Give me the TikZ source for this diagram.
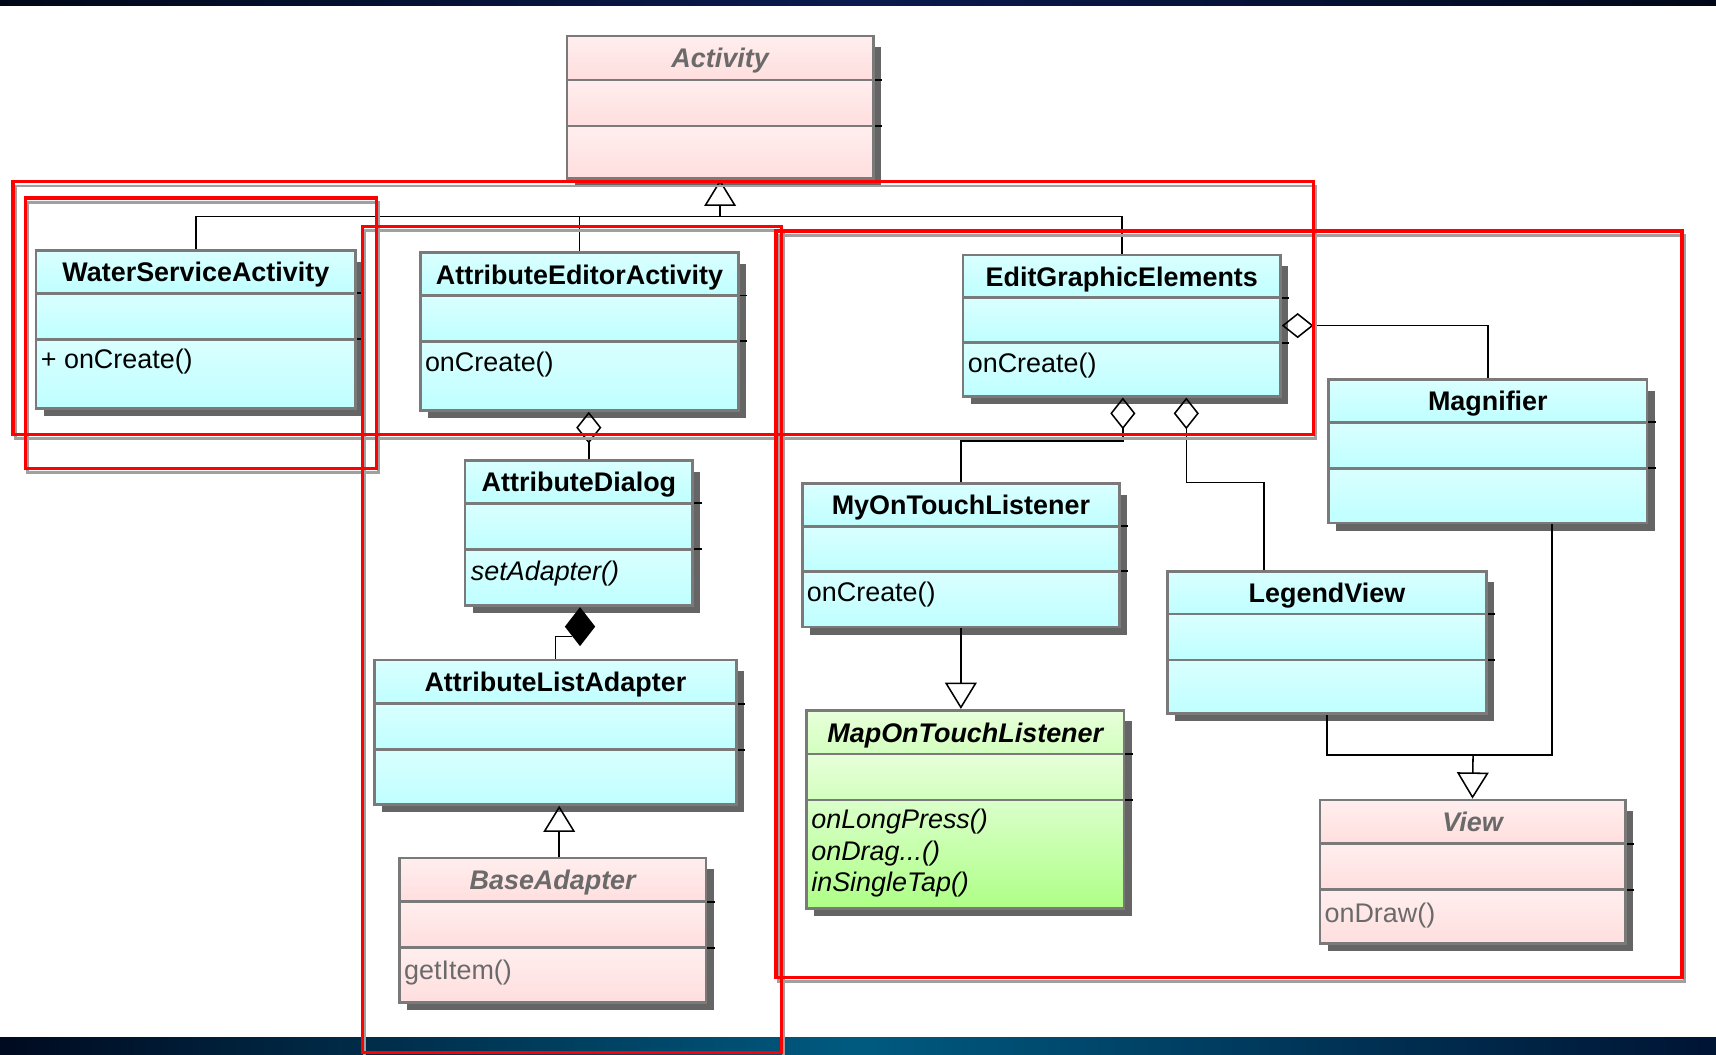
\documentclass[tikz,border=0pt]{standalone}
\usepackage{fontspec}
\newfontfamily\umlfont{Liberation Sans}
\usepackage{tikz}
\usetikzlibrary{calc}
\usetikzlibrary{arrows.meta}
\usetikzlibrary{shapes.geometric}
\usetikzlibrary{fit}
\usetikzlibrary{positioning}

\definecolor{cyanA}{HTML}{DAFFFF}
\definecolor{cyanB}{HTML}{BFFFFF}
\definecolor{pinkA}{HTML}{FFEEEE}
\definecolor{pinkB}{HTML}{FFDEDE}
\definecolor{greenA}{HTML}{E8FFDA}
\definecolor{greenB}{HTML}{D2FFBE}
\definecolor{greenC}{HTML}{DAFFCA}
\definecolor{greenD}{HTML}{AEFF86}
\definecolor{clsedge}{HTML}{7A7A7A}
\definecolor{clsshade}{HTML}{656565}
\definecolor{abstxt}{HTML}{6A6A6A}
\definecolor{markred}{HTML}{FF0000}
\definecolor{markgray}{HTML}{A0A0A0}
\definecolor{barA}{HTML}{000A20}
\definecolor{barB}{HTML}{005A80}
\definecolor{barC}{HTML}{001434}
\definecolor{topA}{HTML}{000818}
\definecolor{topB}{HTML}{0A1A50}

\tikzset{cyancls/.style={top color=cyanA, bottom color=cyanB},
  pinkcls/.style={top color=pinkA, bottom color=pinkB},
  greencls/.style={top color=greenA, bottom color=greenB},
  greencls ops/.style={top color=greenC, bottom color=greenD},
  clsbox/.style={draw=clsedge, line width=1.4pt, inner sep=0pt},
  clsline/.style={draw=clsedge, line width=1.4pt},
  clsshadow/.style={fill=clsshade},
  clstitle/.style={font=\umlfont\bfseries\fontsize{14}{16}\selectfont, anchor=base, inner sep=0pt},
  clsmeth/.style={font=\umlfont\fontsize{14}{16.4}\selectfont, anchor=base west, inner sep=0pt, align=left},
  conn/.style={line width=0.8pt, black},
  gen/.style={conn, -{Triangle[open, length=0.48cm, width=0.58cm]}},
  agg/.style={conn, -{Diamond[open, length=0.58cm, width=0.46cm]}},
  compd/.style={diamond, fill=black, inner sep=0pt, minimum width=0.56cm, minimum height=0.72cm},
  markbox/.style={draw=markred, line width=1.7pt},
  markshadow/.style={draw=markgray, line width=1.5pt}}

% name, left, top, right, bottom, divider 1, divider 2, fill, title
\newcommand{\umlclass}[9]{%
  \fill[clsshadow] (#2+7,-#3-10) rectangle (#4+7,-#5-7);
  \draw[line width=1pt] (#4+1,-#6) -- (#4+8,-#6) (#4+1,-#7) -- (#4+8,-#7);
  \shade[#8] (#2,-#3) rectangle (#4,-#6);
  \shade[#8] (#2,-#6) rectangle (#4,-#7);
  \shade[#8, #8 ops/.try] (#2,-#7) rectangle (#4,-#5);
  \draw[clsline] (#2,-#6) -- (#4,-#6) (#2,-#7) -- (#4,-#7);
  \node[clsbox, fit={(#2,-#3) (#4,-#5)}] (#1) {};
  \node[clstitle] (#1-title) at ({(#2+#4)/2},{-(#3+#6)/2-9}) {#9};
}

\begin{document}
\begin{tikzpicture}[x=0.02cm, y=0.02cm]

\useasboundingbox (0,0) rectangle (1568,-964);
\fill[white] (0,0) rectangle (1568,-964);
\shade[left color=topA, right color=topA, middle color=topB] (0,0) rectangle (1568,-5);
\shade[left color=barA, right color=barC, middle color=barB] (0,-948) rectangle (1568,-964);

% classes
\umlclass{act}{518}{33}{798}{163}{73}{115}{pinkcls}{\color{abstxt}\itshape Activity}
\umlclass{wsa}{33}{229}{325}{373}{268}{310}{cyancls}{WaterServiceActivity}
\umlclass{aea}{384}{231}{675}{375}{270}{312}{cyancls}{AttributeEditorActivity}
\umlclass{ege}{880}{233}{1170}{362}{272}{313}{cyancls}{EditGraphicElements}
\umlclass{mag}{1214}{347}{1505}{478}{386}{428}{cyancls}{Magnifier}
\umlclass{adlg}{425}{421}{633}{553}{460}{502}{cyancls}{AttributeDialog}
\umlclass{motl}{733}{442}{1023}{573}{481}{522}{cyancls}{MyOnTouchListener}
\umlclass{lgv}{1067}{522}{1358}{652}{561}{603}{cyancls}{LegendView}
\umlclass{ala}{342}{603}{673}{735}{643}{685}{cyancls}{AttributeListAdapter}
\umlclass{maptl}{737}{649}{1027}{830}{689}{731}{greencls}{\itshape MapOnTouchListener}
\umlclass{view}{1206}{731}{1485}{862}{771}{813}{pinkcls}{\color{abstxt}\itshape View}
\umlclass{base}{365}{784}{645}{916}{824}{866}{pinkcls}{\color{abstxt}\itshape BaseAdapter}

\node[clsmeth] (wsa-ops) at (37,-337) {+ onCreate()};
\node[clsmeth] (aea-ops) at (388,-339) {onCreate()};
\node[clsmeth] (ege-ops) at (884,-340) {onCreate()};
\node[clsmeth] (adlg-ops) at (430,-530) {\itshape setAdapter()};
\node[clsmeth] (motl-ops) at (737,-550) {onCreate()};
\node[clsmeth, anchor=north west] (maptl-ops) at (741,-739)
  {\itshape onLongPress()\\\itshape onDrag...()\\\itshape inSingleTap()};
\node[clsmeth, text=abstxt] (view-ops) at (1210,-843) {onDraw()};
\node[clsmeth, text=abstxt] (base-ops) at (369,-895) {getItem()};

% connectors
\coordinate (actj) at (658,-198);
\draw[conn] (wsa.north) |- (actj);
\draw[conn] (aea.north) |- (actj);
\draw[conn] (ege.north) |- (actj);
\draw[gen] (actj) -- (act.south);

\draw[agg] ([xshift=0.18cm]adlg.north) -- ([xshift=0.18cm]adlg.north |- aea.south);
\node[compd, anchor=north] (adlgd) at ([xshift=0.02cm]adlg.south) {};
\draw[conn] (ala.north) |- (adlgd.south west);
\draw[gen] ([xshift=0.12cm]base.north) -- ([xshift=0.12cm]base.north |- ala.south);

\draw[agg] (mag.north) |- (ege.east);
\coordinate (egej) at (1026,-403);
\draw[agg] (motl.north) |- (egej) -- (egej |- ege.south);
\coordinate (lgvj) at (1155,-441);
\draw[agg] (lgvj |- lgv.north) -- (lgvj) -| ([xshift=1.18cm]ege.south);
\draw[gen] (motl.south) -- (motl.south |- maptl.north);

\coordinate (viewj) at (1346,-690);
\draw[conn] (lgv.south) |- (viewj);
\draw[conn] ([xshift=1.17cm]mag.south) |- (viewj);
\draw[gen] (viewj) -- (view.north);

% red markings
\foreach \l/\t/\r/\b in {12/166/1200/397, 23/181/344/428, 331/207/714/962, 709/211/1537/893}
  \draw[markshadow] (\l+2,-\t-4) rectangle (\r+2,-\b-4);
\foreach \l/\t/\r/\b in {12/166/1200/397, 23/181/344/428, 331/207/714/962, 709/211/1537/893}
  \draw[markbox] (\l,-\t) rectangle (\r,-\b);

\end{tikzpicture}
\end{document}
